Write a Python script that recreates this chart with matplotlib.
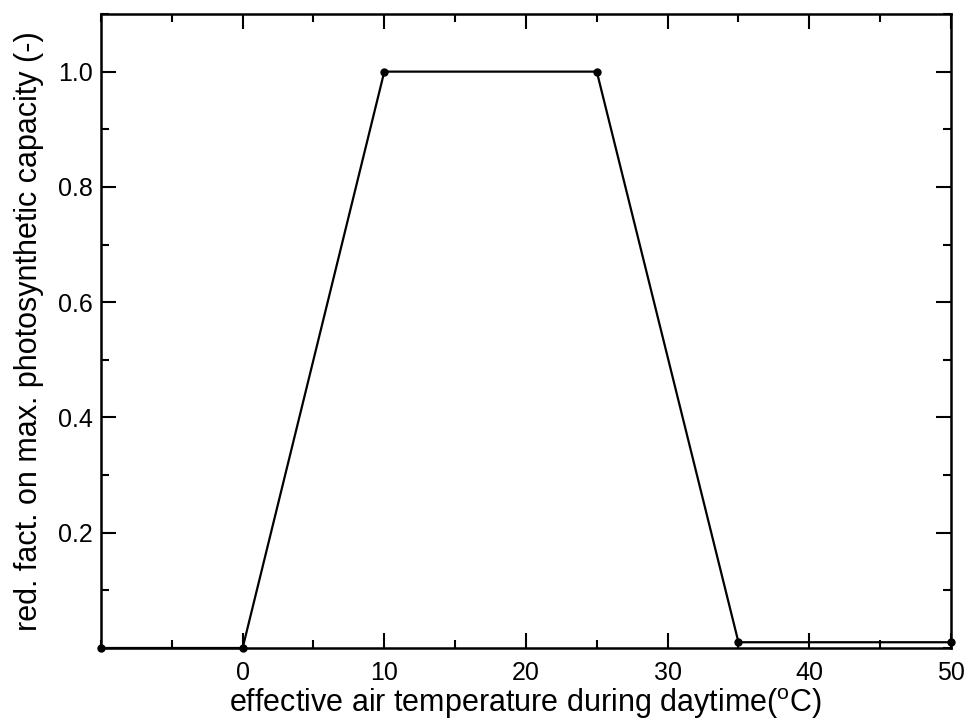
import matplotlib
matplotlib.use("Agg")
import matplotlib.pyplot as plt
from matplotlib.ticker import MultipleLocator

# curva de reduccion por temperatura
temp = [-10, 0, 10, 25, 35, 50]
red_fact = [0.0, 0.0, 1.0, 1.0, 0.01, 0.01]

xticks = [0, 10, 20, 30, 40, 50]
yticks = [0.2, 0.4, 0.6, 0.8, 1.0]

plt.rcParams["font.family"] = ["Liberation Sans", "DejaVu Sans"]

fig = plt.figure(figsize=(9.68, 7.25), dpi=100)
ax = fig.add_axes([0.1043, 0.1062, 0.8781, 0.8745])
ax.plot(temp, red_fact, color="black", lw=1.6, marker="o", ms=5, clip_on=False, zorder=3)

ax.set_xlim(-10, 50)
ax.set_ylim(0, 1.1)
ax.set_xticks(xticks)
ax.set_yticks(yticks)
ax.set_yticklabels([f"{v:.1f}" for v in yticks])
ax.xaxis.set_minor_locator(MultipleLocator(5))
ax.yaxis.set_minor_locator(MultipleLocator(0.1))
ax.tick_params(which="both", direction="in", top=True, right=True, width=1.5, labelsize=18)
ax.tick_params(axis="y", pad=6)
ax.tick_params(axis="x", pad=9)
ax.tick_params(which="major", length=11)
ax.tick_params(which="minor", length=5.5)
for s in ax.spines.values():
    s.set_linewidth(1.8)

ax.set_xlabel("effective air temperature during daytime($\\mathregular{^{o}}$C)", fontsize=22, labelpad=1)
ax.set_ylabel("red. fact. on max. photosynthetic capacity (-)", fontsize=22, labelpad=10)

fig.savefig("out.png", dpi=100)
